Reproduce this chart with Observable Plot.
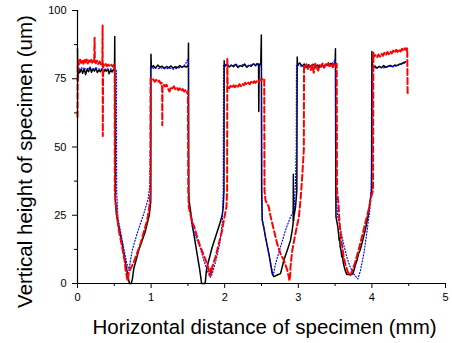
<!DOCTYPE html>
<html>
<head>
<meta charset="utf-8">
<script src="https://cdn.jsdelivr.net/npm/d3@7"></script>
<script src="https://cdn.jsdelivr.net/npm/@observablehq/plot@0.6"></script>
<style>
  html, body { margin: 0; padding: 0; background: #fff; }
</style>
</head>
<body>
<div id="chart"></div>
<script>
const xTitle = "Horizontal distance of specimen (mm)";
const yTitle = "Vertical height of specimen (um)";
const xTickValues = [0, 1, 2, 3, 4, 5];
const xMinorTicks = [0.5, 1.5, 2.5, 3.5, 4.5];
const yTickValues = [0, 25, 50, 75, 100];
const yMinorTicks = [12.5, 37.5, 62.5, 87.5];

// Solid black profile [x (mm), height (um)]
const blackProfile = [
  [0,86],[0.004,74],[0.012,78.5],[0.03,77.2],[0.05,78.6],[0.07,77],[0.09,78.8],[0.11,76.5],[0.13,78.4],[0.15,77.6],
  [0.17,79.2],[0.19,77.4],[0.21,78.6],[0.23,77.8],[0.25,78.9],[0.27,77.3],[0.29,78.2],[0.31,77.6],[0.33,78.5],[0.35,77.1],
  [0.37,78.3],[0.39,77.8],[0.41,78.6],[0.43,76.8],[0.45,78.2],[0.47,77.5],[0.49,78.4],[0.503,78],[0.506,90.5],[0.512,49],
  [0.515,30],[0.53,25],[0.561,20.7],[0.607,14.7],[0.652,7.4],[0.697,1.1],[0.705,0],[0.73,0],[0.745,1.5],[0.765,5.5],
  [0.83,12],[0.92,19],[0.975,25],[0.995,30],[0.998,84],[1.004,79],
  [1.03,79.8],[1.06,78.9],[1.09,80],[1.12,79.2],[1.15,79.6],[1.18,78.8],[1.21,79.5],[1.24,79],[1.27,79.7],[1.3,78.9],
  [1.33,79.4],[1.36,79.1],[1.39,79.8],[1.42,79.2],[1.45,79.6],[1.48,79.3],[1.505,80],[1.508,88],[1.512,34],
  [1.515,30.5],[1.535,26.8],[1.572,19.5],[1.617,12.1],[1.662,4.8],[1.681,1],[1.685,0],[1.735,0],[1.745,3],[1.755,5.5],
  [1.784,8.5],[1.83,13.3],[1.875,17],[1.933,21.9],[1.966,25],[1.98,28],[1.99,34],[1.993,81.6],[1.998,79.5],
  [2.03,80.2],[2.06,79.3],[2.09,80],[2.12,79.4],[2.15,80.3],[2.18,79.1],[2.21,79.8],[2.24,79.5],[2.27,80.4],[2.3,79.2],
  [2.33,79.9],[2.36,79.6],[2.39,80.5],[2.42,79.8],[2.45,80.6],[2.46,80],[2.463,63],[2.468,80],[2.49,80.5],[2.498,91],
  [2.502,34],[2.51,23.2],[2.53,20.7],[2.554,17],[2.6,10.9],[2.646,3.5],[2.668,2.5],[2.72,3.2],[2.758,3.6],[2.781,6],
  [2.803,8.5],[2.849,12.1],[2.894,15.8],[2.917,19.5],[2.93,22],[2.933,40],[2.937,23],[2.94,24.4],[2.962,28],[2.98,34],
  [2.985,83],[2.99,80],
  [3.02,80.8],[3.05,79.6],[3.08,80.4],[3.11,79.2],[3.14,80.1],[3.17,79.5],[3.2,80.3],[3.23,79.4],[3.26,80],[3.29,79.3],
  [3.32,80.2],[3.35,79.6],[3.38,80.4],[3.41,79.8],[3.44,80.6],[3.47,80.1],[3.5,80.8],[3.505,86],[3.51,34],
  [3.512,24.4],[3.537,20.7],[3.55,17.5],[3.555,15.8],[3.562,16.8],[3.569,13.4],[3.58,12.2],[3.591,9.7],[3.6,10.5],
  [3.614,7.2],[3.637,4.8],[3.659,3.3],[3.727,3.3],[3.75,4.2],[3.773,6.6],[3.795,8.2],[3.818,10.9],[3.84,12.2],
  [3.864,14.6],[3.909,19.5],[3.954,25.6],[3.977,30.5],[3.995,34],[4.0,85],[4.005,79.3],
  [4.04,79.6],[4.07,78.9],[4.1,79.5],[4.13,79],[4.16,79.8],[4.19,79.2],[4.22,79.6],[4.25,79.9],[4.28,79.4],[4.31,80],
  [4.34,79.8],[4.37,80.3],[4.4,80.5],[4.43,80.9],[4.46,81.2]
];

// Dotted blue profile
const blueProfile = [
  [0,79.5],[0.02,78.5],[0.05,79],[0.1,78.6],[0.15,78.8],[0.2,78.4],[0.25,78.9],[0.3,78.5],[0.35,78.7],[0.4,78.3],
  [0.45,78.6],[0.5,78.5],[0.528,78],[0.532,34],[0.548,24.4],[0.607,15.8],[0.666,7.8],[0.697,4.8],[0.743,12.1],
  [0.811,18.4],[0.9,25.5],[0.96,31],[0.982,36],[0.99,49],[0.992,79.5],
  [1.03,78.8],[1.06,79.2],[1.1,78.7],[1.15,79],[1.2,78.6],[1.25,78.9],[1.3,78.5],[1.35,78.8],[1.4,79.2],[1.44,79.6],
  [1.47,80.5],[1.49,81.8],[1.505,82],[1.508,34],[1.512,30],[1.526,26.8],[1.558,20.7],[1.626,15.8],[1.671,12.7],
  [1.716,8.5],[1.77,4.2],[1.807,2.3],[1.83,3.6],[1.875,7.8],[1.933,14.6],[1.966,21.9],[1.98,34],[1.985,80.3],
  [2.05,80],[2.1,79.8],[2.15,80.2],[2.2,79.7],[2.25,80.1],[2.3,79.6],[2.35,80],[2.4,80.3],[2.45,80.6],[2.49,80.2],
  [2.5,79],[2.505,34],[2.51,23.2],[2.53,20.7],[2.554,17],[2.6,10.9],[2.646,4.8],[2.66,3],[2.69,7.2],[2.758,13.3],
  [2.826,19.5],[2.894,24.4],[2.94,26.8],[2.962,36.6],[2.972,49],[2.975,80.2],
  [3.02,79.8],[3.06,79.4],[3.1,79.6],[3.15,79.2],[3.2,79.5],[3.25,79.1],[3.3,79.4],[3.35,79.6],[3.4,79.9],[3.45,80.4],
  [3.48,81.2],[3.505,82],[3.508,34],[3.537,24.4],[3.569,20.7],[3.614,14.6],[3.659,9.7],[3.705,6],[3.75,3.6],
  [3.81,1.7],[3.845,4.8],[3.89,10.9],[3.936,19.5],[3.97,26.8],[3.99,34],[4.0,49],[4.002,79.2],
  [4.05,79],[4.1,79.3],[4.15,78.9],[4.2,79.2],[4.25,79.6],[4.3,79.4],[4.35,79.9],[4.4,80.3],[4.45,80.8],[4.46,80.9]
];

// Dashed red profile
const redProfile = [
  [0,61],[0.003,80],[0.01,81.5],[0.02,80.3],[0.035,82],[0.05,80.8],[0.065,81.9],[0.08,80.5],[0.095,82.3],[0.11,81],
  [0.125,82],[0.14,80.6],[0.155,81.7],[0.17,81.2],[0.185,82.2],[0.2,80.9],[0.215,81.5],[0.227,81],[0.232,90],
  [0.236,81.3],[0.25,80.7],[0.265,81.6],[0.28,80.4],[0.3,81.3],[0.32,80.2],[0.338,80.9],[0.341,94.5],[0.344,54],
  [0.348,80.5],[0.36,79.8],[0.38,80.6],[0.4,79.6],[0.42,80.2],[0.44,79.5],[0.46,80.1],[0.48,79.4],[0.5,80.3],
  [0.505,79],[0.507,34],[0.516,30],[0.53,26.8],[0.561,19.5],[0.607,13.3],[0.639,8.5],[0.652,5.4],[0.675,1.8],
  [0.683,1],[0.697,4.2],[0.765,7.8],[0.856,14.6],[0.947,23.2],[0.982,29.3],[0.99,34],[0.993,75],
  [1.01,74.5],[1.03,74.8],[1.05,73.9],[1.07,74.6],[1.09,73.8],[1.11,74.3],[1.13,73.2],[1.145,73.5],[1.15,71.6],
  [1.152,58],[1.155,72],[1.17,73],[1.19,72.2],[1.21,72.8],[1.23,71.4],[1.25,70.3],[1.27,72],[1.29,71.5],[1.31,72.2],
  [1.33,71.2],[1.35,71.8],[1.37,70.8],[1.39,71.5],[1.41,70.5],[1.43,71.2],[1.45,70.3],[1.47,70.9],[1.49,69.8],
  [1.5,70.5],[1.505,34],[1.512,28],[1.558,22.4],[1.589,20.6],[1.626,16.9],[1.671,13.3],[1.716,10.3],[1.762,7.2],
  [1.784,4.8],[1.798,2.9],[1.81,5.5],[1.817,3.5],[1.83,6],[1.875,9.7],[1.92,14.6],[1.966,19.5],[1.988,23.2],
  [2.024,28],[2.033,34],[2.035,82.6],[2.04,72],
  [2.06,71.5],[2.08,72.4],[2.1,71.6],[2.12,72.6],[2.14,71.9],[2.16,72.8],[2.18,72.1],[2.2,73],[2.22,72.3],[2.24,73.2],
  [2.26,72.6],[2.28,73.5],[2.3,72.8],[2.32,73.6],[2.34,73],[2.36,73.9],[2.38,73.2],[2.4,74.1],[2.42,73.5],[2.44,74.4],
  [2.46,73.9],[2.48,74.8],[2.5,74.5],[2.52,75.2],[2.537,74.8],[2.541,34],[2.554,30.5],[2.6,28],[2.62,25],
  [2.668,19.5],[2.713,14.6],[2.758,10.9],[2.804,8.5],[2.849,5],[2.872,2.3],[2.88,1],[2.89,3],[2.894,6],[2.917,12],
  [2.962,18.4],[3.008,24.4],[3.03,30.5],[3.053,39],[3.075,49],[3.078,80],
  [3.09,79],[3.11,80.3],[3.13,78.6],[3.15,79.8],[3.17,78.2],[3.19,80.1],[3.21,77.2],[3.23,80.5],[3.25,79.2],[3.27,78],
  [3.29,80],[3.31,79.4],[3.33,80.6],[3.35,79],[3.37,80.2],[3.39,79.5],[3.41,80.8],[3.43,79.6],[3.45,80.3],[3.47,79.2],
  [3.49,80.5],[3.51,79.8],[3.522,80.5],[3.526,34],[3.546,29.3],[3.555,24.4],[3.569,19.5],[3.591,14.6],[3.614,10.3],
  [3.637,7.2],[3.673,4.2],[3.705,2.9],[3.727,4.2],[3.773,7.8],[3.818,12.1],[3.864,17],[3.909,22],[3.954,26.8],
  [3.99,31.7],[4.015,34],[4.02,84.5],
  [4.03,83.2],[4.05,83.6],[4.07,82.8],[4.09,83.9],[4.11,83.1],[4.13,84.2],[4.15,83.4],[4.17,84.5],[4.19,83.7],
  [4.21,84.8],[4.23,84],[4.25,85],[4.27,84.3],[4.29,85.3],[4.31,84.5],[4.33,85.6],[4.35,84.8],[4.37,85.8],[4.39,85],
  [4.41,86],[4.43,85.2],[4.45,86.2],[4.47,85.4],[4.48,86.2],[4.485,70],[4.49,69.5]
];

const px = d => d[0];
const py = d => d[1];

const chart = Plot.plot({
  width: 452,
  height: 343,
  marginLeft: 77,
  marginRight: 7,
  marginTop: 10,
  marginBottom: 60,
  style: {
    fontFamily: "'Liberation Sans', Arial, sans-serif",
    fontSize: "11px",
    color: "black",
    background: "white"
  },
  x: { domain: [0, 5] },
  y: { domain: [0, 100] },
  marks: [
    Plot.line(blackProfile, { x: px, y: py, stroke: "black", strokeWidth: 1.5 }),
    Plot.line(blueProfile, { x: px, y: py, stroke: "#0000ff", strokeWidth: 1.2, strokeDasharray: "1,2" }),
    Plot.line(redProfile, { x: px, y: py, stroke: "#ff0000", strokeWidth: 2, strokeDasharray: "6,3" }),
    Plot.axisX({ ticks: xTickValues, tickSize: 5, tickPadding: 5, label: null, fontSize: 11, tickFormat: d => String(d) }),
    Plot.axisX({ ticks: xMinorTicks, tickSize: 3, text: null, label: null }),
    Plot.axisY({ ticks: yTickValues, tickSize: 5, tickPadding: 6, label: null, fontSize: 11, tickFormat: d => String(d) }),
    Plot.axisY({ ticks: yMinorTicks, tickSize: 3, text: null, label: null }),
    Plot.ruleY([0], { stroke: "black", strokeWidth: 1.2 }),
    Plot.ruleX([0], { stroke: "black", strokeWidth: 1.2 }),
    Plot.text([xTitle], { text: d => d, frameAnchor: "bottom", textAnchor: "middle", lineAnchor: "bottom", dx: 3, dy: 50, fontSize: 20.5 }),
    Plot.text([yTitle], { text: d => d, frameAnchor: "left", rotate: -90, textAnchor: "middle", lineAnchor: "bottom", dx: -46, dy: 14.5, fontSize: 20.5 })
  ]
});

document.getElementById("chart").appendChild(chart);
</script>
</body>
</html>
